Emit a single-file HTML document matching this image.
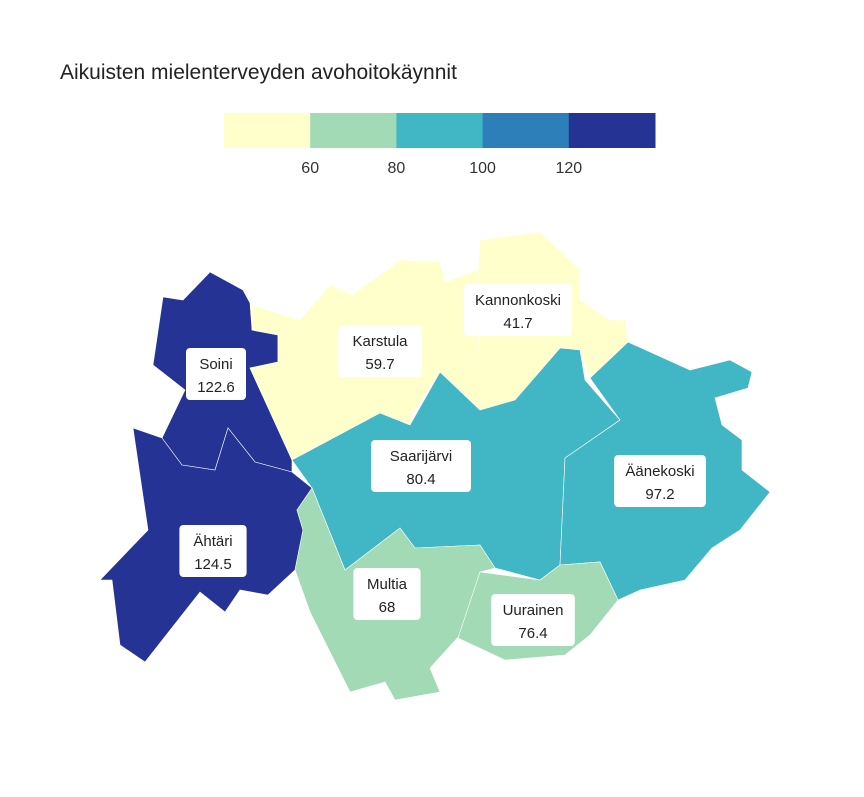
<!DOCTYPE html>
<html><head><meta charset="utf-8"><style>
body{margin:0;background:#fff;width:864px;height:792px;overflow:hidden;font-family:"Liberation Sans",sans-serif}
</style></head><body>
<svg id="chart" width="864" height="792" viewBox="0 0 864 792">
<text x="60" y="79" font-size="21" fill="#222">Aikuisten mielenterveyden avohoitokäynnit</text>
<g id="legend"></g>
<g id="regions"></g>
<g id="labels"></g>
</svg>
<script>
const regionNames=["Soini","Ähtäri","Karstula","Kannonkoski","Saarijärvi","Äänekoski","Multia","Uurainen"];
const regionValues=[122.6,124.5,59.7,41.7,80.4,97.2,68,76.4];
const binBreaks=[60,80,100,120];
const tickLabels=["60","80","100","120"];
const binColors=["#ffffcc","#a1dab4","#41b6c4","#2c7fb8","#253494"];
const shapes={
"Soini":[[163,297],[183,300],[210,272],[243,290],[250,303],[252,330],[278,335],[278,362],[250,368],[292,460],[292,472],[255,462],[228,428],[215,470],[182,465],[162,438],[185,390],[153,365]],
"Ähtäri":[[133,428],[162,438],[182,465],[215,470],[228,428],[255,462],[292,472],[312,488],[297,510],[303,530],[295,570],[268,595],[240,590],[225,612],[200,592],[145,662],[120,645],[112,580],[100,580],[148,530]],
"Karstula":[[252,305],[300,320],[330,285],[352,295],[400,260],[440,262],[445,282],[478,270],[480,410],[440,372],[412,415],[410,425],[380,413],[292,460],[250,368],[278,362],[278,335],[252,330]],
"Kannonkoski":[[478,270],[480,240],[540,232],[580,270],[580,300],[610,320],[625,320],[628,342],[590,378],[580,350],[560,348],[515,400],[480,410]],
"Äänekoski":[[628,342],[690,370],[730,360],[752,372],[748,388],[715,398],[722,425],[742,440],[742,470],[770,492],[740,530],[712,548],[685,580],[640,590],[618,600],[600,562],[560,565],[565,458],[620,420],[590,378]],
"Saarijärvi":[[292,460],[380,413],[410,425],[440,372],[480,410],[515,400],[560,348],[580,350],[585,380],[620,420],[565,458],[560,565],[540,580],[495,568],[480,545],[415,548],[400,528],[345,570],[312,488]],
"Multia":[[312,488],[345,570],[400,528],[415,548],[480,545],[495,568],[480,572],[460,635],[430,668],[440,692],[395,700],[385,682],[350,692],[310,612],[295,570],[303,530],[297,510]],
"Uurainen":[[480,572],[540,580],[560,565],[600,562],[618,600],[590,635],[565,655],[505,660],[458,638]]
};
const labelPos={"Soini":[216,374],"Ähtäri":[213,551],"Karstula":[380,351],"Kannonkoski":[518,310],"Saarijärvi":[421,466],"Äänekoski":[660,481],"Multia":[387,594],"Uurainen":[533,620]};
const NS="http://www.w3.org/2000/svg";
function colorFor(v){let i=0;while(i<binBreaks.length&&v>=binBreaks[i])i++;return binColors[i];}
// legend
const lx0=224,lx1=655,ly=113,lh=35;
function legendX(v){const step=(lx1-lx0)/binColors.length;return lx0+step*(1+(v-binBreaks[0])/(binBreaks[1]-binBreaks[0]));}
const lg=document.getElementById('legend');
binColors.forEach((c,i)=>{const r=document.createElementNS(NS,'rect');const w=(lx1-lx0)/binColors.length;
r.setAttribute('x',lx0+i*w);r.setAttribute('y',ly);r.setAttribute('width',w+0.5);r.setAttribute('height',lh);r.setAttribute('fill',c);


lg.appendChild(r);});
binBreaks.forEach((b,i)=>{const t=document.createElementNS(NS,'text');t.setAttribute('x',legendX(b));t.setAttribute('y',173);
t.setAttribute('text-anchor','middle');t.setAttribute('font-size','16');t.setAttribute('fill','#333');t.textContent=tickLabels[i];


lg.appendChild(t);});
// regions
const rg=document.getElementById('regions'),lb=document.getElementById('labels');
regionNames.forEach((n,i)=>{const p=document.createElementNS(NS,'polygon');
p.setAttribute('points',shapes[n].map(q=>q.join(',')).join(' '));
p.setAttribute('fill',colorFor(regionValues[i]));p.setAttribute('stroke','#ffffff');p.setAttribute('stroke-width','0.6');


rg.appendChild(p);
const [cx,cy]=labelPos[n];const w=Math.max(n.length*8.2+18,60);
const g=document.createElementNS(NS,'g');


const r=document.createElementNS(NS,'rect');r.setAttribute('x',cx-w/2);r.setAttribute('y',cy-26);r.setAttribute('width',w);r.setAttribute('height',52);r.setAttribute('rx',4);r.setAttribute('fill','#fff');
g.appendChild(r);
const t1=document.createElementNS(NS,'text');t1.setAttribute('x',cx);t1.setAttribute('y',cy-5);t1.setAttribute('text-anchor','middle');t1.setAttribute('font-size','15');t1.setAttribute('fill','#222');t1.textContent=n;g.appendChild(t1);
const t2=document.createElementNS(NS,'text');t2.setAttribute('x',cx);t2.setAttribute('y',cy+18);t2.setAttribute('text-anchor','middle');t2.setAttribute('font-size','15');t2.setAttribute('fill','#222');t2.textContent=String(regionValues[i]);g.appendChild(t2);
lb.appendChild(g);});
</script>
</body></html>
